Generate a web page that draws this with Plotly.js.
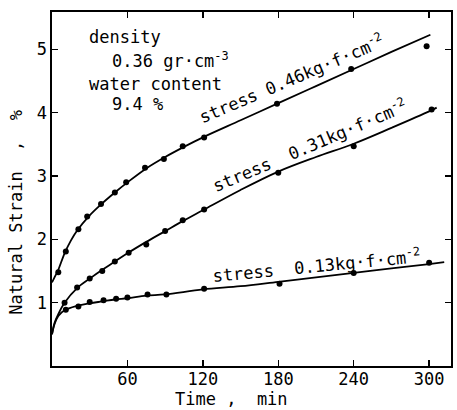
<!DOCTYPE html>
<html>
<head>
<meta charset="utf-8">
<script src="https://cdn.plot.ly/plotly-3.0.1.min.js"></script>
<style>
html, body { margin: 0; padding: 0; background: #fff; }
#chart { width: 457px; height: 410px; }
</style>
</head>
<body>
<div id="chart"></div>
<script>
// Creep of snow samples: natural strain (%) against time (min) under three stresses.

// Stress levels, kg-f/cm2
var stressLevels = ['0.46', '0.31', '0.13'];

// Measured points, stress 0.46
var time046 = [5, 11, 21, 28, 39, 50, 59, 74, 89, 104, 121, 179, 238, 298];
var strain046 = [1.48, 1.81, 2.16, 2.36, 2.56, 2.74, 2.90, 3.13, 3.27, 3.47, 3.61, 4.14, 4.69, 5.05];

// Measured points, stress 0.31
var time031 = [10, 20, 30, 40, 50, 61, 75, 90, 104, 121, 180, 240, 302];
var strain031 = [1.00, 1.24, 1.38, 1.50, 1.65, 1.79, 1.92, 2.13, 2.30, 2.47, 3.05, 3.47, 4.05];

// Measured points, stress 0.13
var time013 = [11, 21, 30, 41, 51, 60, 76, 91, 121, 181, 240, 300];
var strain013 = [0.89, 0.94, 1.01, 1.04, 1.06, 1.08, 1.13, 1.13, 1.22, 1.30, 1.47, 1.63];

// Drawn trend curves through each set
var curveTime046 = [0, 2, 5, 10, 15, 20, 30, 40, 50, 60, 75, 90, 105, 120, 150, 180, 210, 240, 270, 301];
var curveStrain046 = [1.32, 1.40, 1.52, 1.78, 1.98, 2.14, 2.38, 2.57, 2.74, 2.90, 3.12, 3.30, 3.46, 3.61, 3.88, 4.15, 4.42, 4.69, 4.96, 5.23];

var curveTime031 = [0, 2, 5, 10, 20, 30, 40, 50, 60, 75, 90, 105, 120, 150, 180, 210, 240, 270, 300, 306];
var curveStrain031 = [0.50, 0.68, 0.82, 1.00, 1.23, 1.38, 1.52, 1.65, 1.78, 1.96, 2.13, 2.30, 2.46, 2.78, 3.07, 3.30, 3.51, 3.76, 4.02, 4.08];

var curveTime013 = [0, 2, 5, 10, 20, 30, 40, 50, 60, 75, 90, 120, 150, 180, 210, 240, 270, 300, 312];
var curveStrain013 = [0.50, 0.66, 0.79, 0.88, 0.95, 0.99, 1.02, 1.05, 1.07, 1.11, 1.13, 1.21, 1.26, 1.33, 1.40, 1.47, 1.54, 1.61, 1.64];

// Axis ticks
var xTickVals = [60, 120, 180, 240, 300];
var yTickVals = [1, 2, 3, 4, 5];

var FONT = 'DejaVu Sans Mono, monospace';
var NBSP = '\u00a0';

function curve(x, y) {
  return { x: x, y: y, type: 'scatter', mode: 'lines',
           line: { color: '#000', width: 1.8, shape: 'spline', smoothing: 1 },
           hoverinfo: 'skip' };
}
function points(x, y) {
  return { x: x, y: y, type: 'scatter', mode: 'markers',
           marker: { color: '#000', size: 6 } };
}

var data = [
  curve(curveTime046, curveStrain046), points(time046, strain046),
  curve(curveTime031, curveStrain031), points(time031, strain031),
  curve(curveTime013, curveStrain013), points(time013, strain013)
];

function axisStyle(extra) {
  var base = {
    showgrid: false, zeroline: false,
    showline: true, linecolor: '#000', linewidth: 1.6, mirror: 'ticks',
    ticks: 'inside', ticklen: 6, tickwidth: 1.5, tickcolor: '#000',
    tickfont: { family: FONT, size: 17, color: '#000' }
  };
  for (var k in extra) base[k] = extra[k];
  return base;
}

function spaced(s) { return s.split(' ').join(NBSP); }

function note(text, x, y, extra) {
  var a = {
    text: spaced(text), x: x, y: y, xref: 'x', yref: 'y', showarrow: false,
    font: { family: FONT, size: 17, color: '#000' }
  };
  for (var k in (extra || {})) a[k] = extra[k];
  return a;
}

var layout = {
  width: 457, height: 410,
  margin: { l: 52, r: 6, t: 12, b: 44, pad: 0 },
  paper_bgcolor: '#fff', plot_bgcolor: '#fff',
  showlegend: false,
  xaxis: axisStyle({ range: [0, 317.4], tickvals: xTickVals, ticklabelstandoff: -3 }),
  yaxis: axisStyle({ range: [0, 5.59], tickvals: yTickVals }),
  annotations: [
    note('density', 28, 5.19, { xanchor: 'left' }),
    note('0.36 gr·cm<sup>-3</sup>', 46, 4.84, { xanchor: 'left' }),
    note('water content', 28, 4.45, { xanchor: 'left' }),
    note('9.4 %', 46, 4.13, { xanchor: 'left' }),
    note('stress ' + stressLevels[0] + 'kg·f·cm<sup>-2</sup>', 190.4, 4.54, { textangle: -23 }),
    note('stress  ' + stressLevels[1] + 'kg·f·cm<sup>-2</sup>', 204.7, 3.49, { textangle: -23 }),
    note('stress  ' + stressLevels[2] + 'kg·f·cm<sup>-2</sup>', 210.3, 1.60, { textangle: -5.5 }),
    note('Time ,  min', 0.449, -0.094, { xref: 'paper', yref: 'paper', xanchor: 'center', yanchor: 'middle' }),
    note('Natural Strain  ,  %', -0.0895, 0.434, { xref: 'paper', yref: 'paper', textangle: -90, xanchor: 'center', yanchor: 'middle' })
  ]
};

Plotly.newPlot('chart', data, layout, { displayModeBar: false, staticPlot: true });
</script>
</body>
</html>
